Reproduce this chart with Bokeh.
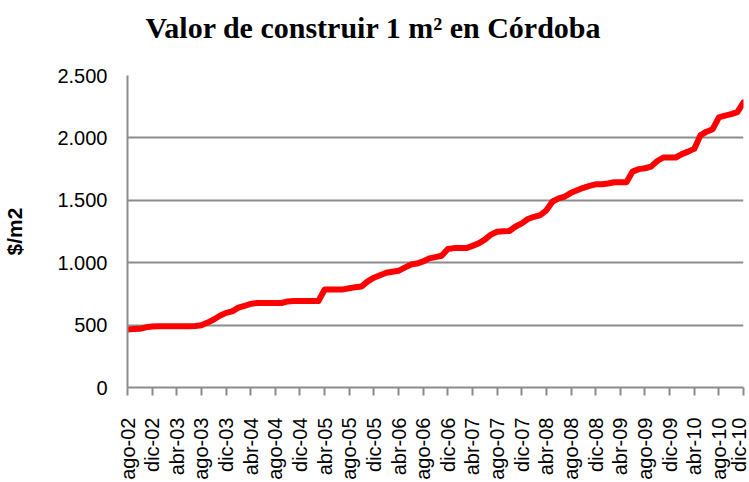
from math import pi
from bokeh.plotting import figure
from bokeh.models import FixedTicker, Range1d, Label
from bokeh.embed import file_html
from bokeh.resources import INLINE

# Monthly cost of building 1 m2 in Córdoba ($/m2), ago-02 .. dic-10
values = [
    465, 468, 470, 482, 488, 490, 490, 490, 490, 490, 490,
    492, 498, 520, 545, 575, 598, 610, 640, 655, 670,
    677, 677, 677, 677, 677, 690, 693, 693, 693, 693,
    693, 785, 785, 786, 786, 795, 804, 810, 850, 880,
    900, 920, 928, 935, 960, 985, 993, 1010, 1035, 1045,
    1056, 1110, 1117, 1117, 1117, 1135, 1155, 1185, 1225, 1248,
    1252, 1254, 1290, 1315, 1350, 1368, 1382, 1420, 1490, 1515,
    1530, 1560, 1580, 1600, 1615, 1628, 1628, 1635, 1645, 1645,
    1645, 1730, 1750, 1757, 1770, 1815, 1843, 1843, 1843, 1870,
    1890, 1912, 2020, 2050, 2070, 2165, 2178, 2190, 2206, 2285,
]

x_tick_labels = [
    "ago-02", "dic-02", "abr-03", "ago-03", "dic-03", "abr-04", "ago-04",
    "dic-04", "abr-05", "ago-05", "dic-05", "abr-06", "ago-06", "dic-06",
    "abr-07", "ago-07", "dic-07", "abr-08", "ago-08", "dic-08", "abr-09",
    "ago-09", "dic-09", "abr-10", "ago-10", "dic-10",
]
x_tick_step = 4

y_ticks = [0, 500, 1000, 1500, 2000, 2500]
y_tick_labels = ["0", "500", "1.000", "1.500", "2.000", "2.500"]

title_text = "Valor de construir 1 m² en Córdoba"
y_label = "$/m2"

months = list(range(len(values)))

p = figure(
    width=749, height=482,
    output_backend="svg", toolbar_location=None,
    x_range=Range1d(0, len(values) - 1),
    y_range=Range1d(y_ticks[0], y_ticks[-1]),
    min_border_left=126, min_border_right=6,
    min_border_top=75, min_border_bottom=94,
    background_fill_color="white", border_fill_color="white",
    outline_line_color=None,
)
p.title = None

t = Label(
    x=246, y=48, x_units="screen", y_units="screen",
    text=title_text, text_align="center", text_baseline="alphabetic",
    text_font="Liberation Serif", text_font_size="30px",
    text_font_style="bold", text_color="black",
)
p.add_layout(t, "above")

p.line(months, values, line_color="#ff0000", line_width=6,
       line_join="round", line_cap="round")

grid_col = "#8c8c8c"
p.xgrid.visible = False
p.ygrid.grid_line_color = grid_col
p.ygrid.grid_line_width = 2
p.ygrid.ticker = FixedTicker(ticks=y_ticks)

xt = [i * x_tick_step for i in range(len(x_tick_labels))]
p.xaxis.ticker = FixedTicker(ticks=xt)
p.xaxis.major_label_overrides = {k: v for k, v in zip(xt, x_tick_labels)}
p.xaxis.major_label_orientation = pi / 2
p.xaxis.major_tick_out = 8
p.xaxis.major_tick_in = 0
p.xaxis.minor_tick_out = 0
p.xaxis.minor_tick_in = 0
p.xaxis.major_label_standoff = 22
p.xaxis.major_label_text_font_size = "20px"

p.yaxis.ticker = FixedTicker(ticks=y_ticks)
p.yaxis.major_label_overrides = {k: v for k, v in zip(y_ticks, y_tick_labels)}
p.yaxis.major_tick_out = 0
p.yaxis.major_tick_in = 0
p.yaxis.minor_tick_out = 0
p.yaxis.minor_tick_in = 0
p.yaxis.major_label_standoff = 20
p.yaxis.major_label_text_font_size = "20px"
p.yaxis.axis_label = y_label
p.yaxis.axis_label_text_font = "Liberation Sans"
p.yaxis.axis_label_text_font_style = "bold"
p.yaxis.axis_label_text_font_size = "21px"
p.yaxis.axis_label_text_color = "black"
p.yaxis.axis_label_standoff = 28

for ax in (p.xaxis, p.yaxis):
    ax.axis_line_color = grid_col
    ax.axis_line_width = 2
    ax.major_tick_line_color = grid_col
    ax.major_tick_line_width = 2
    ax.major_label_text_font = "Liberation Sans"
    ax.major_label_text_color = "black"

open("out.html", "w").write(file_html(p, INLINE))
